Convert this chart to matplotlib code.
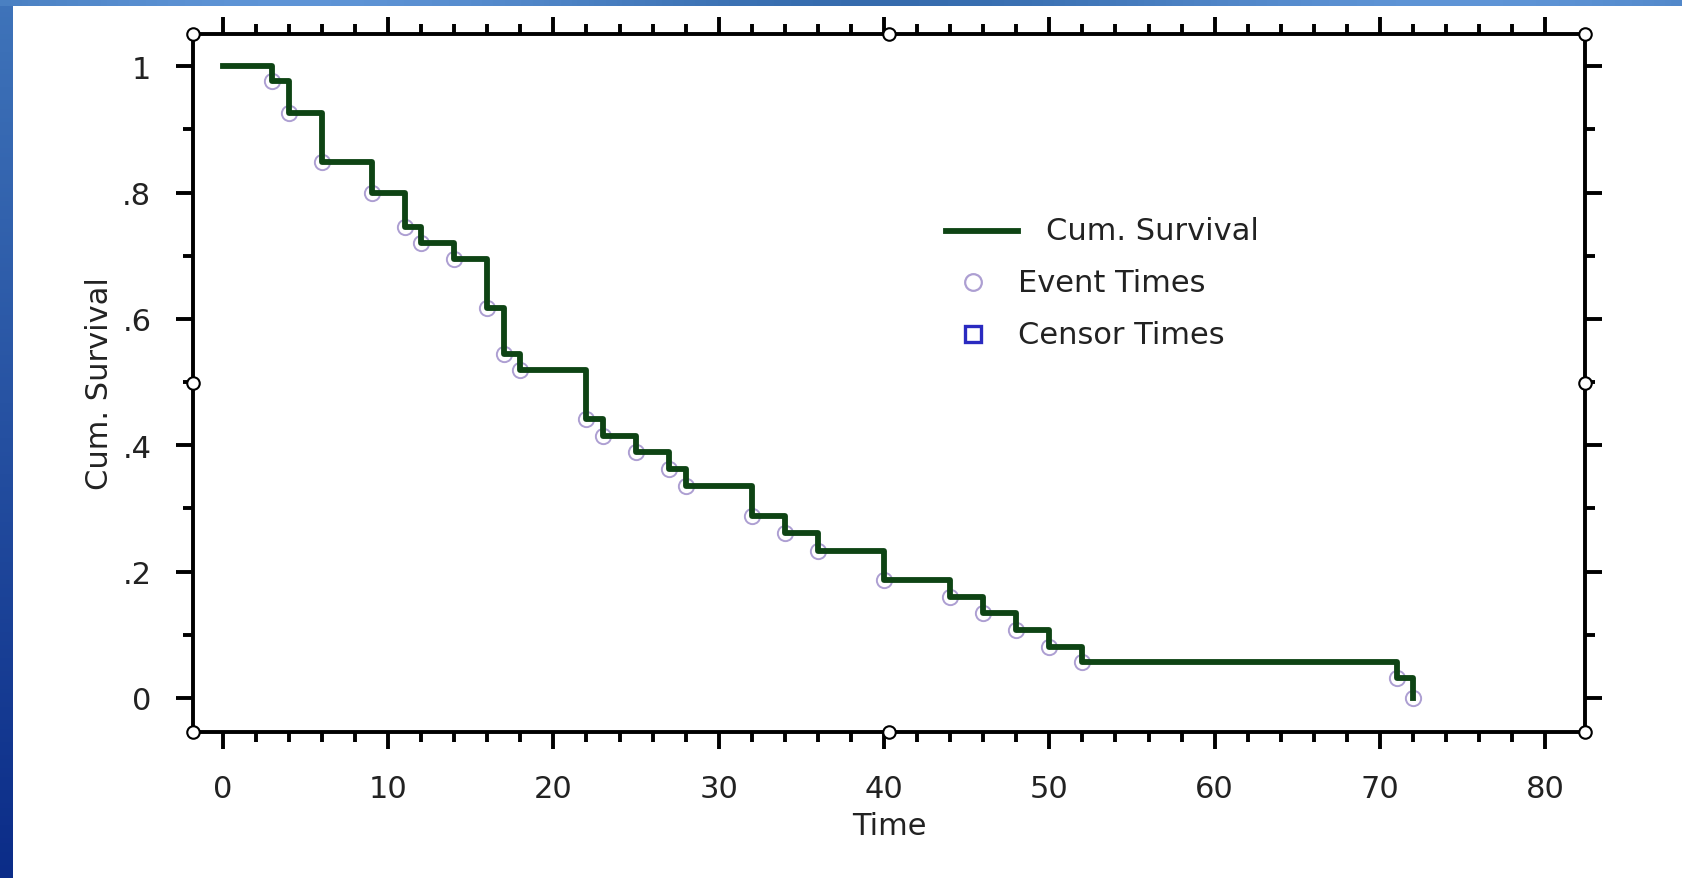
import numpy as np
import matplotlib
matplotlib.use("Agg")
import matplotlib.pyplot as plt
from matplotlib.colors import to_rgb

# Kaplan-Meier: Zeit und kumulatives Ueberleben
times = [0, 3, 4, 6, 9, 11, 12, 14, 16, 17, 18, 22, 23, 25, 27, 28,
         32, 34, 36, 40, 44, 46, 48, 50, 52, 71, 72]
surv = [1.0, 0.977, 0.926, 0.848, 0.80, 0.745, 0.72, 0.695, 0.617, 0.545, 0.519,
        0.441, 0.415, 0.389, 0.363, 0.336, 0.288, 0.261, 0.233, 0.186,
        0.160, 0.134, 0.107, 0.081, 0.057, 0.032, 0.0]
event_t = times[1:]
event_s = surv[1:]

xticks = list(range(0, 81, 10))
yticks = [0, 0.2, 0.4, 0.6, 0.8, 1.0]
ytick_labels = ["0", ".2", ".4", ".6", ".8", "1"]

GREEN = "#0e4414"
EVENT = "#ad9fd2"
CENSOR = "#2a2ac0"
TXT = "#222222"

plt.rcParams["font.family"] = ["DejaVu Sans"]

W, H = 1682, 879
fig = plt.figure(figsize=(W / 100, H / 100), dpi=100)
fig.patch.set_facecolor("white")

# blauer Rahmen links/oben (Bildschirmhintergrund)
bg = fig.add_axes([0, 0, 1, 1], zorder=-10)
bg.set_xlim(0, W)
bg.set_ylim(H, 0)
bg.axis("off")
c0, c1 = np.array(to_rgb("#3f74ba")), np.array(to_rgb("#0b2c88"))
grad = np.linspace(0, 1, 200)[:, None, None] * (c1 - c0) + c0
bg.imshow(grad, extent=[0, 13, H, 0], aspect="auto")
top = np.linspace(0, 1, 300)
tc = np.array(to_rgb("#4a80c2")) + 0.08 * np.sin(top * 9)[:, None]
bg.imshow(np.clip(tc, 0, 1)[None, :, :], extent=[0, W, 7, 0], aspect="auto")

ax = fig.add_axes([193 / W, 1 - 733 / H, (1585 - 193) / W, (733 - 35) / H])
ax.step(times, surv, where="post", color=GREEN, lw=4.2, zorder=3)
ax.plot(event_t, event_s, "o", ms=11, mfc="none", mec=EVENT, mew=1.4, zorder=2)

ax.set_xlim(-1.8, 82.4)
ax.set_ylim(-0.054, 1.051)
ax.set_xticks(xticks)
ax.set_xticks(range(0, 81, 2), minor=True)
ax.set_yticks(yticks)
ax.set_yticklabels(ytick_labels)
ax.set_yticks(np.arange(0, 1.01, 0.1), minor=True)

for s in ax.spines.values():
    s.set_linewidth(2.8)
    s.set_color("black")
ax.tick_params(which="both", direction="out", top=True, right=True, width=2.8,
               color="black", labelcolor=TXT, labelsize=22)
ax.tick_params(which="major", length=12)
ax.tick_params(which="minor", length=7)
ax.tick_params(axis="y", pad=18)
ax.tick_params(axis="x", pad=18)

ax.set_xlabel("Time", fontsize=22, color=TXT, labelpad=6)
ax.set_ylabel("Cum. Survival", fontsize=22, color=TXT, labelpad=6)

# Legende
ax.plot([0.541, 0.593], [0.718, 0.718], color=GREEN, lw=4.2, transform=ax.transAxes)
ax.text(0.613, 0.718, "Cum. Survival", transform=ax.transAxes, fontsize=22,
        color=TXT, va="center", ha="left")
ax.plot([0.560], [0.644], "o", ms=12, mfc="none", mec=EVENT, mew=1.6, transform=ax.transAxes)
ax.text(0.593, 0.644, "Event Times", transform=ax.transAxes, fontsize=22,
        color=TXT, va="center", ha="left")
ax.plot([0.560], [0.570], "s", ms=12, mfc="none", mec=CENSOR, mew=2.4, transform=ax.transAxes)
ax.text(0.593, 0.570, "Censor Times", transform=ax.transAxes, fontsize=22,
        color=TXT, va="center", ha="left")

# Auswahl-Griffe am Rahmen
hx = [0, 0.5, 1, 0, 1, 0, 0.5, 1]
hy = [1, 1, 1, 0.5, 0.5, 0, 0, 0]
ax.plot(hx, hy, "o", ms=9, mfc="white", mec="black", mew=1.5,
        transform=ax.transAxes, clip_on=False, zorder=5)

fig.savefig("out.png", dpi=100)
